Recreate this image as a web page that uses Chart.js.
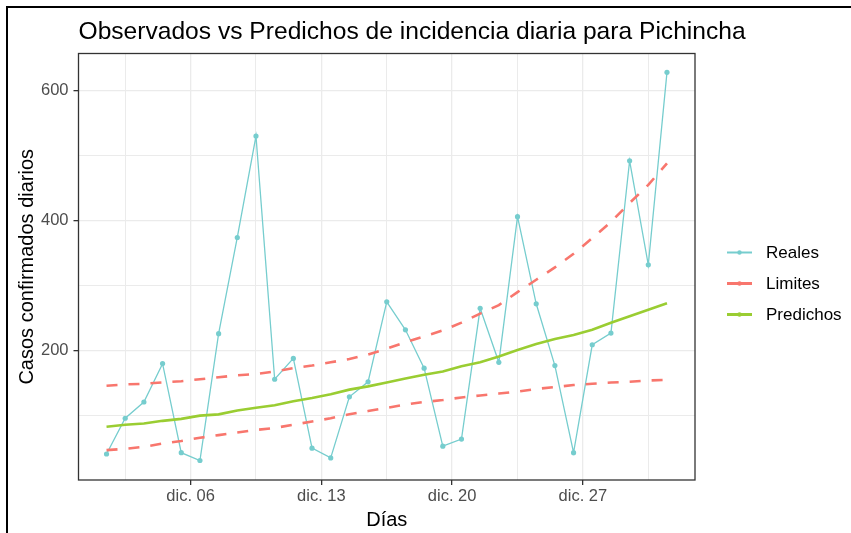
<!DOCTYPE html>
<html>
<head>
<meta charset="utf-8">
<script src="https://cdn.jsdelivr.net/npm/chart.js@4"></script>
<style>
  html, body { margin: 0; padding: 0; background: #fff; }
  #wrap { width: 851px; height: 533px; position: relative; }
</style>
</head>
<body>
<div id="wrap"><canvas id="c" width="851" height="533"></canvas></div>
<script>
// Día de diciembre de cada observación
const dias = [1, 2, 3, 4, 5, 6, 7, 8, 9, 10, 11, 12, 13, 14, 15, 16, 17, 18, 19, 20,
              21, 22, 23, 24, 25, 26, 27, 28, 29, 30, 31];
// Casos confirmados observados
const reales = [41, 96, 121, 180, 43, 31, 226, 374, 530, 156, 188, 50, 35, 129, 152, 275,
                232, 173, 53, 64, 265, 182, 406, 272, 177, 43, 209, 227, 492, 332, 628];
// Incidencia predicha por el modelo
const predichos = [83, 86, 88, 92, 95, 100, 102, 108, 112, 116, 122, 127, 133, 140, 145, 151,
                   157, 163, 168, 176, 182, 191, 201, 210, 218, 224, 232, 243, 253, 263, 273];
// Límites superior e inferior del intervalo
const limiteSup = [146, 148, 149, 151, 153, 156, 159, 162, 164, 168, 173, 177, 182, 187, 194, 203,
                   213, 222, 231, 243, 257, 270, 290, 309, 328, 349, 373, 398, 427, 455, 488];
const limiteInf = [47, 49, 52, 57, 61, 66, 70, 74, 78, 81, 86, 91, 96, 102, 107, 112,
                   117, 121, 124, 128, 131, 134, 137, 141, 144, 147, 149, 151, 152, 154, 155];
// Marcas del eje X (día de diciembre) y sus etiquetas
const xTickDias = [6, 13, 20, 27];
const xTickLabels = ['dic. 06', 'dic. 13', 'dic. 20', 'dic. 27'];
// Marcas del eje Y
const yTicks = [200, 400, 600];

const COL_REALES = '#76CDCE';
const COL_LIMITES = '#F8766D';
const COL_PRED = '#9ACD32';
const FONT = '"Liberation Sans", Arial, sans-serif';

// each daily count sits at noon of its day
const pts = arr => arr.map((v, i) => ({ x: dias[i] + 0.5, y: v }));

// minor grid lines halfway between the major ones
const xStep = xTickDias[1] - xTickDias[0];
const xMinor = [xTickDias[0] - xStep / 2, ...xTickDias.map(d => d + xStep / 2)];
const yStep = yTicks[1] - yTicks[0];
const yMinor = [yTicks[0] - yStep / 2, ...yTicks.map(v => v + yStep / 2)].filter(v => v < 657);

const isMajorX = v => xTickDias.includes(v);
const isMajorY = v => yTicks.includes(v);

const legendItems = [
  { label: 'Reales', color: COL_REALES, width: 2 },
  { label: 'Limites', color: COL_LIMITES, width: 3 },
  { label: 'Predichos', color: COL_PRED, width: 3 }
];

const decor = {
  id: 'decor',
  beforeDraw(chart) {
    const ctx = chart.ctx;
    ctx.save();
    ctx.fillStyle = '#fff';
    ctx.fillRect(0, 0, chart.width, chart.height);
    // outer frame (top and left edges)
    ctx.fillStyle = '#000';
    ctx.fillRect(6, 6, chart.width - 6, 2);
    ctx.fillRect(6, 6, 2, chart.height - 6);
    ctx.restore();
  },
  afterDatasetsDraw(chart) {
    const { ctx, chartArea: a } = chart;
    ctx.save();
    ctx.strokeStyle = '#333333';
    ctx.lineWidth = 1.3;
    ctx.strokeRect(a.left, a.top, a.right - a.left, a.bottom - a.top);
    ctx.restore();
  },
  afterDraw(chart) {
    const { ctx, chartArea: a } = chart;
    ctx.save();
    // title
    ctx.fillStyle = '#000';
    ctx.font = '24.6px ' + FONT;
    ctx.textAlign = 'left';
    ctx.textBaseline = 'alphabetic';
    ctx.fillText('Observados vs Predichos de incidencia diaria para Pichincha', a.left, 38.5);
    // legend
    const x0 = 727, x1 = 752, tx = 766;
    const y0 = 252.5, dy = 31;
    ctx.font = '17px ' + FONT;
    ctx.textBaseline = 'middle';
    legendItems.forEach((it, i) => {
      const y = y0 + i * dy;
      ctx.strokeStyle = it.color;
      ctx.lineWidth = it.width;
      ctx.beginPath();
      ctx.moveTo(x0, y);
      ctx.lineTo(x1, y);
      ctx.stroke();
      ctx.fillStyle = it.color;
      ctx.beginPath();
      ctx.arc((x0 + x1) / 2, y, 2.2, 0, Math.PI * 2);
      ctx.fill();
      ctx.fillStyle = '#000';
      ctx.fillText(it.label, tx, y + 1);
    });
    ctx.restore();
  }
};

new Chart(document.getElementById('c'), {
  type: 'line',
  data: {
    datasets: [
      {
        label: 'Predichos', data: pts(predichos), borderColor: COL_PRED, backgroundColor: COL_PRED,
        borderWidth: 2.6, pointRadius: 0, tension: 0, order: 1
      },
      {
        label: 'Limites', data: pts(limiteSup), borderColor: COL_LIMITES, backgroundColor: COL_LIMITES,
        borderWidth: 2.6, borderDash: [11, 11], pointRadius: 0, tension: 0, order: 2
      },
      {
        label: 'Limites', data: pts(limiteInf), borderColor: COL_LIMITES, backgroundColor: COL_LIMITES,
        borderWidth: 2.6, borderDash: [11, 11], pointRadius: 0, tension: 0, order: 2
      },
      {
        label: 'Reales', data: pts(reales), borderColor: COL_REALES, backgroundColor: COL_REALES,
        borderWidth: 1.3, pointRadius: 2.6, pointBorderWidth: 0, tension: 0, order: 3
      }
    ]
  },
  options: {
    responsive: false,
    devicePixelRatio: 1,
    animation: false,
    layout: { padding: { left: 0, top: 53.5, right: 156, bottom: 0 } },
    plugins: { legend: { display: false }, tooltip: { enabled: false }, title: { display: false } },
    scales: {
      x: {
        type: 'linear', min: 0, max: 33,
        afterBuildTicks: s => { s.ticks = [...xMinor, ...xTickDias].sort((a, b) => a - b).map(v => ({ value: v })); },
        afterFit: s => { s.height = 53; },
        ticks: {
          autoSkip: false, maxRotation: 0, minRotation: 0, padding: 2,
          color: '#4D4D4D', font: { family: FONT, size: 16.5 },
          callback: v => { const i = xTickDias.indexOf(v); return i >= 0 ? xTickLabels[i] : ''; }
        },
        grid: {
          color: '#EBEBEB', lineWidth: c => (c.tick && isMajorX(c.tick.value)) ? 1.3 : 1,
          drawTicks: true, tickLength: 5,
          tickColor: c => (c.tick && isMajorX(c.tick.value)) ? '#333333' : 'rgba(0,0,0,0)',
          tickWidth: 1.3
        },
        border: { display: false },
        title: {
          display: true, text: 'Días', color: '#000',
          font: { family: FONT, size: 20 }, padding: { top: 0, bottom: 1 }
        }
      },
      y: {
        type: 'linear', min: 1, max: 657,
        afterBuildTicks: s => { s.ticks = [...yMinor, ...yTicks].sort((a, b) => a - b).map(v => ({ value: v })); },
        afterFit: s => { s.width = 78.5; },
        ticks: {
          padding: 5, color: '#4D4D4D', font: { family: FONT, size: 16.5 },
          callback: v => isMajorY(v) ? String(v) : ''
        },
        grid: {
          color: '#EBEBEB', lineWidth: c => (c.tick && isMajorY(c.tick.value)) ? 1.3 : 1,
          drawTicks: true, tickLength: 5,
          tickColor: c => (c.tick && isMajorY(c.tick.value)) ? '#333333' : 'rgba(0,0,0,0)',
          tickWidth: 1.3
        },
        border: { display: false },
        title: {
          display: true, text: 'Casos confirmados diarios', color: '#000',
          font: { family: FONT, size: 20 }, padding: { top: 15, bottom: 0 }
        }
      }
    }
  },
  plugins: [decor]
});
</script>
</body>
</html>
